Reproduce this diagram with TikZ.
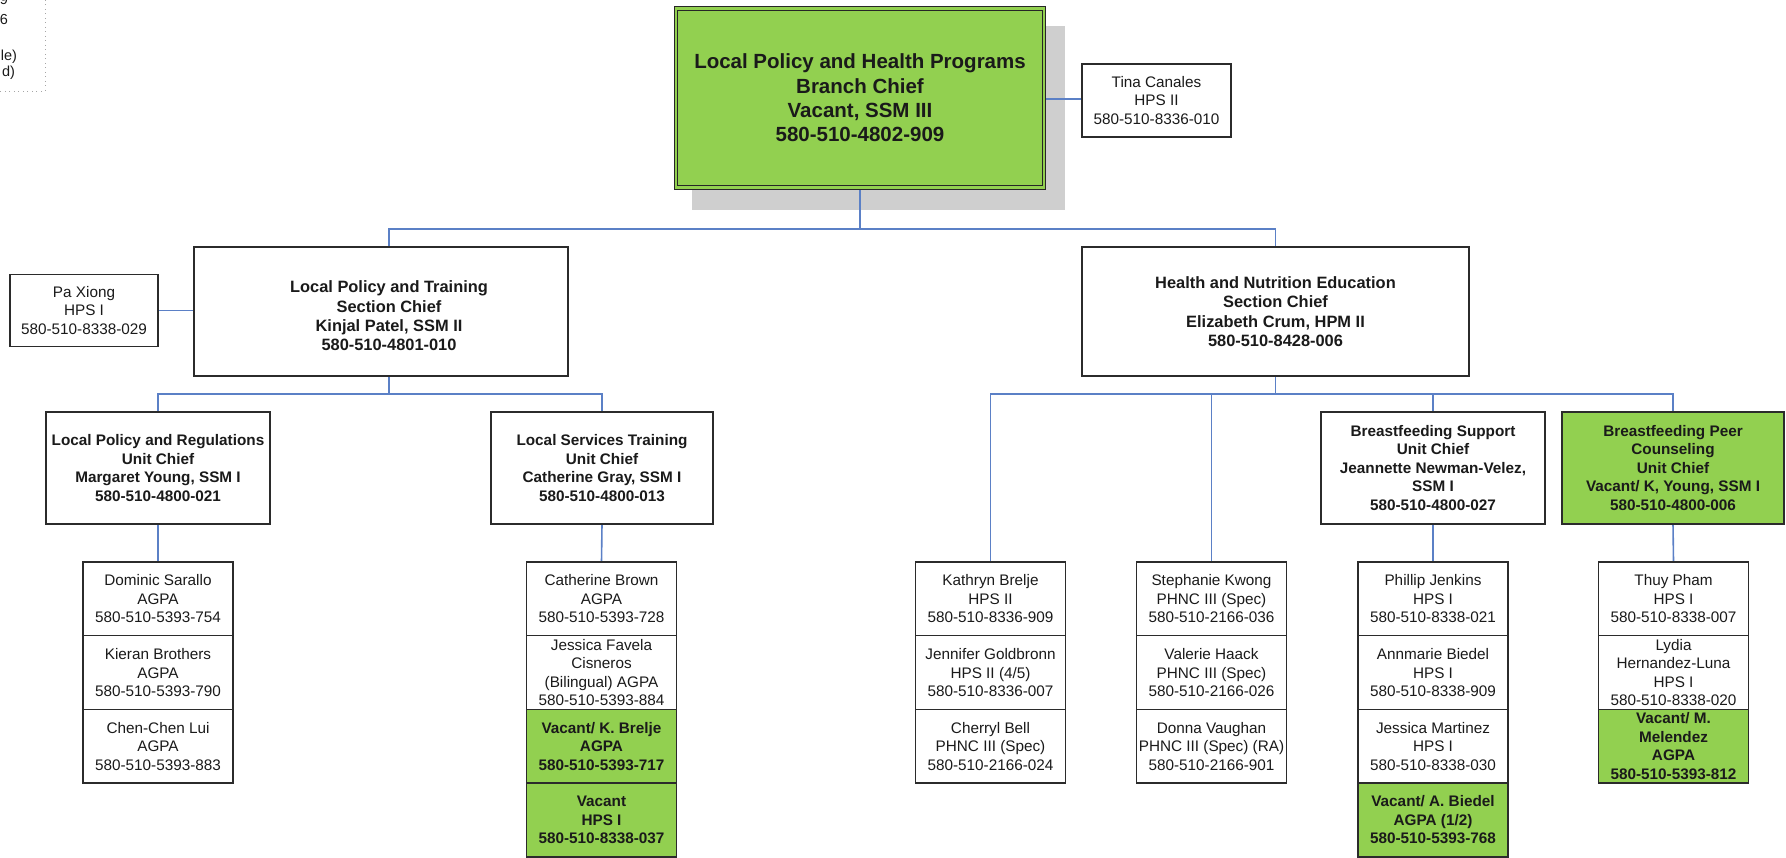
\documentclass[tikz,border=0pt]{standalone}
\usepackage{fontspec}
\setmainfont{Liberation Sans}
\usetikzlibrary{positioning}
\definecolor{leafgreen}{HTML}{92D050}
\definecolor{linkblue}{HTML}{5B80C6}
\definecolor{edgegray}{HTML}{2B2B2B}
\definecolor{shadegray}{HTML}{CFCFCF}
\definecolor{inkdark}{HTML}{1A1A1A}
\newcommand\ftop{\fontsize{20.5}{24.3}\selectfont\bfseries}
\newcommand\fsect{\fontsize{16.4}{19.3}\selectfont\bfseries}
\newcommand\funit{\fontsize{15.3}{18.5}\selectfont\bfseries}
\newcommand\fstaff{\fontsize{15.3}{18.4}\selectfont}
\newcommand\flegend{\fontsize{14.5}{16.5}\selectfont}
\pgfdeclarelayer{bg}
\pgfsetlayers{bg,main}
\begin{document}
\begin{tikzpicture}[x=1pt,y=-1pt,
  every node/.style={outer sep=0pt},
  conn/.style={draw=linkblue,line width=1.6},
  frame/.style={draw=edgegray,line width=1.5,align=center,inner sep=0pt,fill=white,text=inkdark},
  staff/.style={frame,minimum width=150,minimum height=73.7,font=\fstaff},
  staffgo/.style={staff,fill=leafgreen,font=\funit},
  unitbox/.style={frame,minimum height=112,font=\funit},
  sectbox/.style={frame,minimum height=129},
  aide/.style={frame,font=\fstaff},
  legendtxt/.style={font=\flegend,text=inkdark,inner sep=0pt,anchor=base east}]
\useasboundingbox (0,0) rectangle (1786,858);

% partial legend in the corner
\draw[gray!70,line width=0.9,dash pattern=on 0.9pt off 3.6pt] (45,0) -- (45,91) -- (0,91);
\node[legendtxt] (lg9) at (8,5) {9};
\node[legendtxt] (lg6) at (8,25) {6};
\node[legendtxt] (lgle) at (17,61) {le)};
\node[legendtxt] (lgd) at (15,77) {d)};

% branch chief
\node[frame,draw=black!85,double=leafgreen,double distance=2.5,line width=1.2,
      fill=leafgreen,minimum width=368,minimum height=179,font=\ftop] (top) at (860,98)
  {Local Policy and Health Programs\\Branch Chief\\Vacant, SSM III\\580-510-4802-909};
\node[aide,minimum width=149,minimum height=73] (tina) at (1156.5,100.5)
  {Tina Canales\\HPS II\\580-510-8336-010};

% sections
\node[aide,minimum width=148,minimum height=72] (pa) at (84,310.5)
  {Pa Xiong\\HPS I\\580-510-8338-029};
\node[sectbox,minimum width=374] (lpt) at (381,311.5) {};
\node[font=\fsect,align=center,text=inkdark,inner sep=0pt] (lpttext) at (389,316)
  {Local Policy and Training\\Section Chief\\Kinjal Patel, SSM II\\580-510-4801-010};
\node[sectbox,minimum width=387,font=\fsect] (hne) at (1275.5,311.5)
  {Health and Nutrition Education\\Section Chief\\Elizabeth Crum, HPM II\\580-510-8428-006};

% units
\node[unitbox,minimum width=224] (lpr) at (158,468)
  {Local Policy and Regulations\\Unit Chief\\Margaret Young, SSM I\\580-510-4800-021};
\node[unitbox,minimum width=222] (lst) at (602,468)
  {Local Services Training\\Unit Chief\\Catherine Gray, SSM I\\580-510-4800-013};
\node[unitbox,minimum width=224] (bs) at (1433,468)
  {Breastfeeding Support\\Unit Chief\\Jeannette Newman-Velez,\\SSM I\\580-510-4800-027};
\node[unitbox,minimum width=222,fill=leafgreen] (bpc) at (1673,468)
  {Breastfeeding Peer\\Counseling\\Unit Chief\\Vacant/ K, Young, SSM I\\580-510-4800-006};

% staff columns
\node[staff] (a1) at (158,598.85) {Dominic Sarallo\\AGPA\\580-510-5393-754};
\node[staff,below=0pt of a1] (a2) {Kieran Brothers\\AGPA\\580-510-5393-790};
\node[staff,below=0pt of a2] (a3) {Chen-Chen Lui\\AGPA\\580-510-5393-883};

\node[staff] (b1) at (601.5,598.85) {Catherine Brown\\AGPA\\580-510-5393-728};
\node[staff,below=0pt of b1] (b2) {Jessica Favela\\Cisneros\\(Bilingual) AGPA\\580-510-5393-884};
\node[staffgo,below=0pt of b2] (b3) {Vacant/ K. Brelje\\AGPA\\580-510-5393-717};
\node[staffgo,below=0pt of b3] (b4) {Vacant\\HPS I\\580-510-8338-037};

\node[staff] (c1) at (990.5,598.85) {Kathryn Brelje\\HPS II\\580-510-8336-909};
\node[staff,below=0pt of c1] (c2) {Jennifer Goldbronn\\HPS II (4/5)\\580-510-8336-007};
\node[staff,below=0pt of c2] (c3) {Cherryl Bell\\PHNC III (Spec)\\580-510-2166-024};

\node[staff] (d1) at (1211.5,598.85) {Stephanie Kwong\\PHNC III (Spec)\\580-510-2166-036};
\node[staff,below=0pt of d1] (d2) {Valerie Haack\\PHNC III (Spec)\\580-510-2166-026};
\node[staff,below=0pt of d2] (d3) {Donna Vaughan\\PHNC III (Spec) (RA)\\580-510-2166-901};

\node[staff] (e1) at (1433,598.85) {Phillip Jenkins\\HPS I\\580-510-8338-021};
\node[staff,below=0pt of e1] (e2) {Annmarie Biedel\\HPS I\\580-510-8338-909};
\node[staff,below=0pt of e2] (e3) {Jessica Martinez\\HPS I\\580-510-8338-030};
\node[staffgo,below=0pt of e3] (e4) {Vacant/ A. Biedel\\AGPA (1/2)\\580-510-5393-768};

\node[staff] (f1) at (1673.5,598.85) {Thuy Pham\\HPS I\\580-510-8338-007};
\node[staff,below=0pt of f1] (f2) {Lydia\\Hernandez-Luna\\HPS I\\580-510-8338-020};
\node[staffgo,below=0pt of f2] (f3) {Vacant/ M.\\Melendez\\AGPA\\580-510-5393-812};

% shadow and connectors behind the boxes
\coordinate (barT) at (0,229);
\coordinate (barL) at (0,394);
\coordinate (lptx) at (389,0);
\coordinate (tinay) at (0,99);
\begin{pgfonlayer}{bg}
  \fill[shadegray] ([shift={(15.5pt,-17.5pt)}]top.north west) rectangle ([shift={(20.5pt,-22.5pt)}]top.south east);
  \draw[conn] (top.east |- tinay) -- (tina.west |- tinay);
  \draw[conn] (top.south) -- (top.south |- barT);
  \draw[conn] (lptx |- lpt.north) -- (lptx |- barT) -- (hne.north |- barT) -- (hne.north);
  \draw[conn] (pa.east) -- (pa.east -| lpt.west);
  \draw[conn] (lptx |- lpt.south) -- (lptx |- barL);
  \draw[conn] (lpr.north) -- (lpr.north |- barL) -- (lst.north |- barL) -- (lst.north);
  \draw[conn] (hne.south) -- (hne.south |- barL);
  \draw[conn] (c1.north) -- (c1.north |- barL) -- (bpc.north |- barL) -- (bpc.north);
  \draw[conn] (d1.north) -- (d1.north |- barL);
  \draw[conn] (bs.north) -- (bs.north |- barL);
  \draw[conn] (lpr.south) -- (a1.north);
  \draw[conn] (lst.south) -- (b1.north);
  \draw[conn] (bs.south) -- (e1.north);
  \draw[conn] (bpc.south) -- (f1.north);
\end{pgfonlayer}
\end{tikzpicture}
\end{document}
